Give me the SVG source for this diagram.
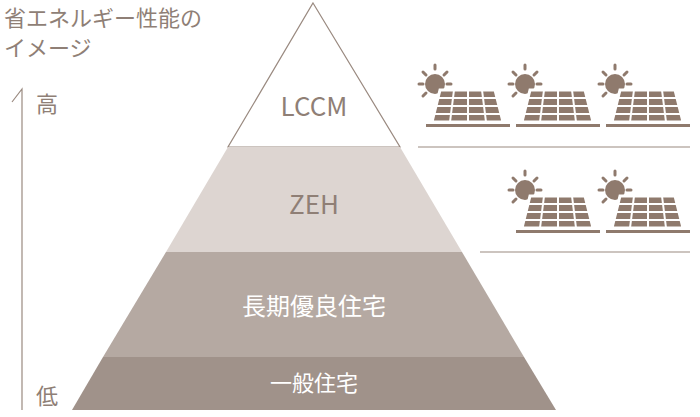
<svg xmlns="http://www.w3.org/2000/svg" width="700" height="417" viewBox="0 0 700 417">
<style>
.t{font-family:"Noto Sans CJK JP","Noto Sans",sans-serif;fill:#8f7f76}
.w{fill:#fff}
.ln{stroke:#9a8a80;stroke-width:1.2;fill:none}
</style>
<defs>
<g id="solar">
<g stroke="#8f7a6d" stroke-width="3" stroke-linecap="round">
<line x1="17" y1="3" x2="17" y2="7"/><line x1="5" y1="10" x2="8" y2="13"/><line x1="29" y1="10" x2="26" y2="13"/>
<line x1="1" y1="22" x2="5" y2="22"/><line x1="33" y1="22" x2="29" y2="22"/><line x1="5" y1="34" x2="8" y2="31"/>
</g>
<circle cx="17" cy="22" r="10" fill="#8f7a6d"/>
<polygon points="22,28 77,28 85,60 14,60" fill="#8f7a6d" stroke="#fff" stroke-width="3"/>
<g stroke="#fff" stroke-width="2">
<line x1="20" y1="36" x2="79" y2="36"/><line x1="18" y1="44" x2="81" y2="44"/><line x1="16" y1="52" x2="83" y2="52"/>
<line x1="36" y1="28" x2="32" y2="60"/><line x1="50" y1="28" x2="50" y2="60"/><line x1="64" y1="28" x2="68" y2="60"/>
</g>
<rect x="8" y="62" width="84" height="3" fill="#8f7a6d"/>
</g>
</defs>
<text class="t" x="4" y="26" font-size="22">省エネルギー性能の</text>
<text class="t" x="4" y="56" font-size="22">イメージ</text>
<g id="axis" class="ln"><polyline points="12,102 22,89 22,410"/></g>
<text class="t" x="36" y="112" font-size="22">高</text>
<text class="t" x="36" y="404" font-size="22">低</text>
<g id="lccm"><polygon points="313,3 400,147 228,147" fill="#fff" stroke="#9a8a80" stroke-width="1.2"/>
<text class="t" x="314" y="116" font-size="26" text-anchor="middle">LCCM</text></g>
<g id="zeh"><polygon points="228,147 400,147 462,252 166,252" fill="#ddd5d1"/>
<text class="t" x="314" y="214" font-size="26" text-anchor="middle" fill="#a5958c">ZEH</text></g>
<g id="choki"><polygon points="166,252 462,252 524,357 103,357" fill="#b5a9a2"/>
<text class="w" x="314" y="315" font-size="24" text-anchor="middle" font-family="Noto Sans CJK JP,sans-serif">長期優良住宅</text></g>
<g id="ippan"><polygon points="103,357 524,357 556,410 72,410" fill="#a0928a"/>
<text class="w" x="314" y="391" font-size="22" text-anchor="middle" font-family="Noto Sans CJK JP,sans-serif">一般住宅</text></g>
<g id="connectors" class="ln"><line x1="418" y1="147" x2="690" y2="147"/><line x1="480" y1="252" x2="690" y2="252"/></g>
<g id="panels">
<use href="#solar" x="418" y="62"/><use href="#solar" x="508" y="62"/><use href="#solar" x="598" y="62"/>
<use href="#solar" x="508" y="168"/><use href="#solar" x="598" y="168"/>
</g>
</svg>
